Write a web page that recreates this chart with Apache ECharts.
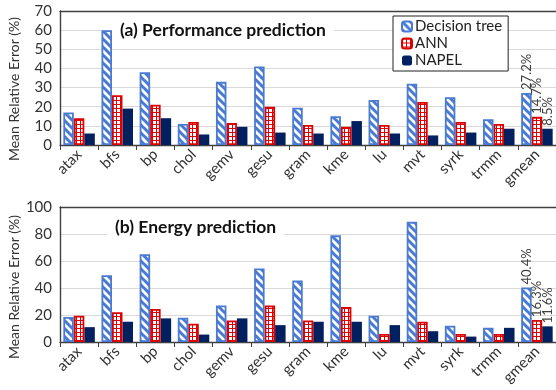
<!DOCTYPE html>
<html><head><meta charset="utf-8">
<script src="https://cdn.jsdelivr.net/npm/echarts@6/dist/echarts.min.js"></script>
<style>html,body{margin:0;padding:0;background:#fff}#c{width:556px;height:390px}</style>
</head><body><div id="c"></div>
<script>
const categories = ['atax','bfs','bp','chol','gemv','gesu','gram','kme','lu','mvt','syrk','trmm','gmean'];
const seriesNames = ['Decision tree','ANN','NAPEL'];
const perfDT    = [17, 60, 38, 11, 33, 41, 19.5, 15, 23.5, 32, 25, 13.5, 27.2];
const perfANN   = [14, 26, 21, 12, 11.5, 20, 10.5, 9.5, 10.5, 22.5, 12, 11, 14.7];
const perfNAPEL = [6, 19, 14, 5.5, 9.5, 6.5, 6, 12.5, 6, 5, 6.5, 8.5, 8.5];
const energyDT    = [18.5, 49.5, 65, 18, 27, 54.5, 45.5, 79, 19.5, 89, 12, 10.5, 40.4];
const energyANN   = [19.5, 22, 24.5, 13.5, 16, 27, 16, 26, 6, 15, 6, 6, 16.3];
const energyNAPEL = [11, 15, 17.5, 5.5, 17.5, 12.5, 15, 15, 12.5, 8, 4, 10.5, 11.6];
const perfTicks = {min: 0, max: 70, interval: 10};
const energyTicks = {min: 0, max: 100, interval: 20};

const BLUE = '#4A7BD3', RED = '#DD0000', NAVY = '#002060';
const FONT = 'Lato';

function stripe() {
  const c = document.createElement('canvas'); c.width = 8; c.height = 8;
  const g = c.getContext('2d');
  g.fillStyle = '#fff'; g.fillRect(0, 0, 8, 8);
  g.strokeStyle = BLUE; g.lineWidth = 3;
  g.beginPath();
  for (let k = -1; k <= 1; k++) { g.moveTo(k * 8 - 2, -2); g.lineTo(k * 8 + 10, 10); }
  g.stroke();
  return c;
}
function gridPat() {
  const c = document.createElement('canvas'); c.width = 4; c.height = 4;
  const g = c.getContext('2d');
  g.fillStyle = '#fff'; g.fillRect(0, 0, 4, 4);
  g.fillStyle = RED; g.fillRect(0, 0, 4, 1); g.fillRect(0, 0, 1, 4);
  return c;
}
const styles = [
  {color: {image: stripe(), repeat: 'repeat'}, borderColor: BLUE, borderWidth: 1.8},
  {color: {image: gridPat(), repeat: 'repeat'}, borderColor: RED, borderWidth: 1.8},
  {color: NAVY}
];

function withLabel(arr) {
  return arr.map((v, i) => i === arr.length - 1 ? {
    value: v,
    label: {show: true, formatter: '{c}%', rotate: 90, position: 'top', align: 'left',
      verticalAlign: 'middle', distance: 3, fontFamily: FONT, fontSize: 13, color: '#404040'}
  } : v);
}

const grids = [
  {left: 60, top: 11, width: 498, height: 134},
  {left: 60, top: 207, width: 498, height: 135}
];
function xAx(gi) {
  return [{
    type: 'category', gridIndex: gi, data: categories,
    axisLine: {lineStyle: {color: '#404040', width: 1.4}},
    axisTick: {show: true, length: 5, lineStyle: {color: '#404040'}},
    axisLabel: {rotate: 45, fontFamily: FONT, fontSize: 15, color: '#333', margin: 7, interval: 0}
  }, {
    type: 'category', gridIndex: gi, data: categories, position: 'top',
    axisLine: {show: true, lineStyle: {color: '#404040', width: 1.4}},
    axisTick: {show: false}, axisLabel: {show: false}
  }];
}
function yAx(gi, t) {
  return {
    type: 'value', gridIndex: gi, min: t.min, max: t.max, interval: t.interval,
    axisLine: {show: true, lineStyle: {color: '#404040', width: 1.4}},
    axisTick: {show: false},
    axisLabel: {fontFamily: FONT, fontSize: 15, color: '#333', margin: 8},
    splitLine: {lineStyle: {color: '#d9d9d9', width: 1}}
  };
}
function bars(gi, arrs) {
  return arrs.map((a, i) => ({
    name: seriesNames[i], type: 'bar', xAxisIndex: gi * 2, yAxisIndex: gi,
    data: withLabel(a), barWidth: 10.5, barGap: '0%', itemStyle: styles[i], z: 3 - i
  }));
}

const chart = echarts.init(document.getElementById('c'), null, {renderer: 'canvas'});
chart.setOption({
  animation: false,
  grid: grids,
  xAxis: [...xAx(0), ...xAx(1)],
  yAxis: [yAx(0, perfTicks), yAx(1, energyTicks)],
  title: [
    {text: '(a) Performance prediction', left: 112, top: 17, padding: [4, 8], backgroundColor: '#fff',
      textStyle: {fontFamily: FONT, fontWeight: 'bold', fontSize: 17.5, color: '#111'}},
    {text: '(b) Energy prediction', left: 107, top: 214, padding: [4, 8], backgroundColor: '#fff',
      textStyle: {fontFamily: FONT, fontWeight: 'bold', fontSize: 17.5, color: '#111'}}
  ],
  legend: {
    data: seriesNames, orient: 'vertical', left: 393, top: 16, padding: [3, 6, 3, 8],
    borderColor: '#222', borderWidth: 1, backgroundColor: '#fff',
    itemWidth: 10, itemHeight: 10, itemGap: 2,
    textStyle: {fontFamily: FONT, fontSize: 15, color: '#222', padding: [0, 0, 0, -2]}
  },
  graphic: [
    {type: 'text', x: 14, y: 89, rotation: Math.PI / 2,
      style: {text: 'Mean Relative Error (%)', fontFamily: FONT, fontSize: 14, fill: '#333', align: 'center', verticalAlign: 'middle'}},
    {type: 'text', x: 14, y: 287, rotation: Math.PI / 2,
      style: {text: 'Mean Relative Error (%)', fontFamily: FONT, fontSize: 14, fill: '#333', align: 'center', verticalAlign: 'middle'}}
  ],
  series: [...bars(0, [perfDT, perfANN, perfNAPEL]), ...bars(1, [energyDT, energyANN, energyNAPEL])]
});
</script></body></html>
